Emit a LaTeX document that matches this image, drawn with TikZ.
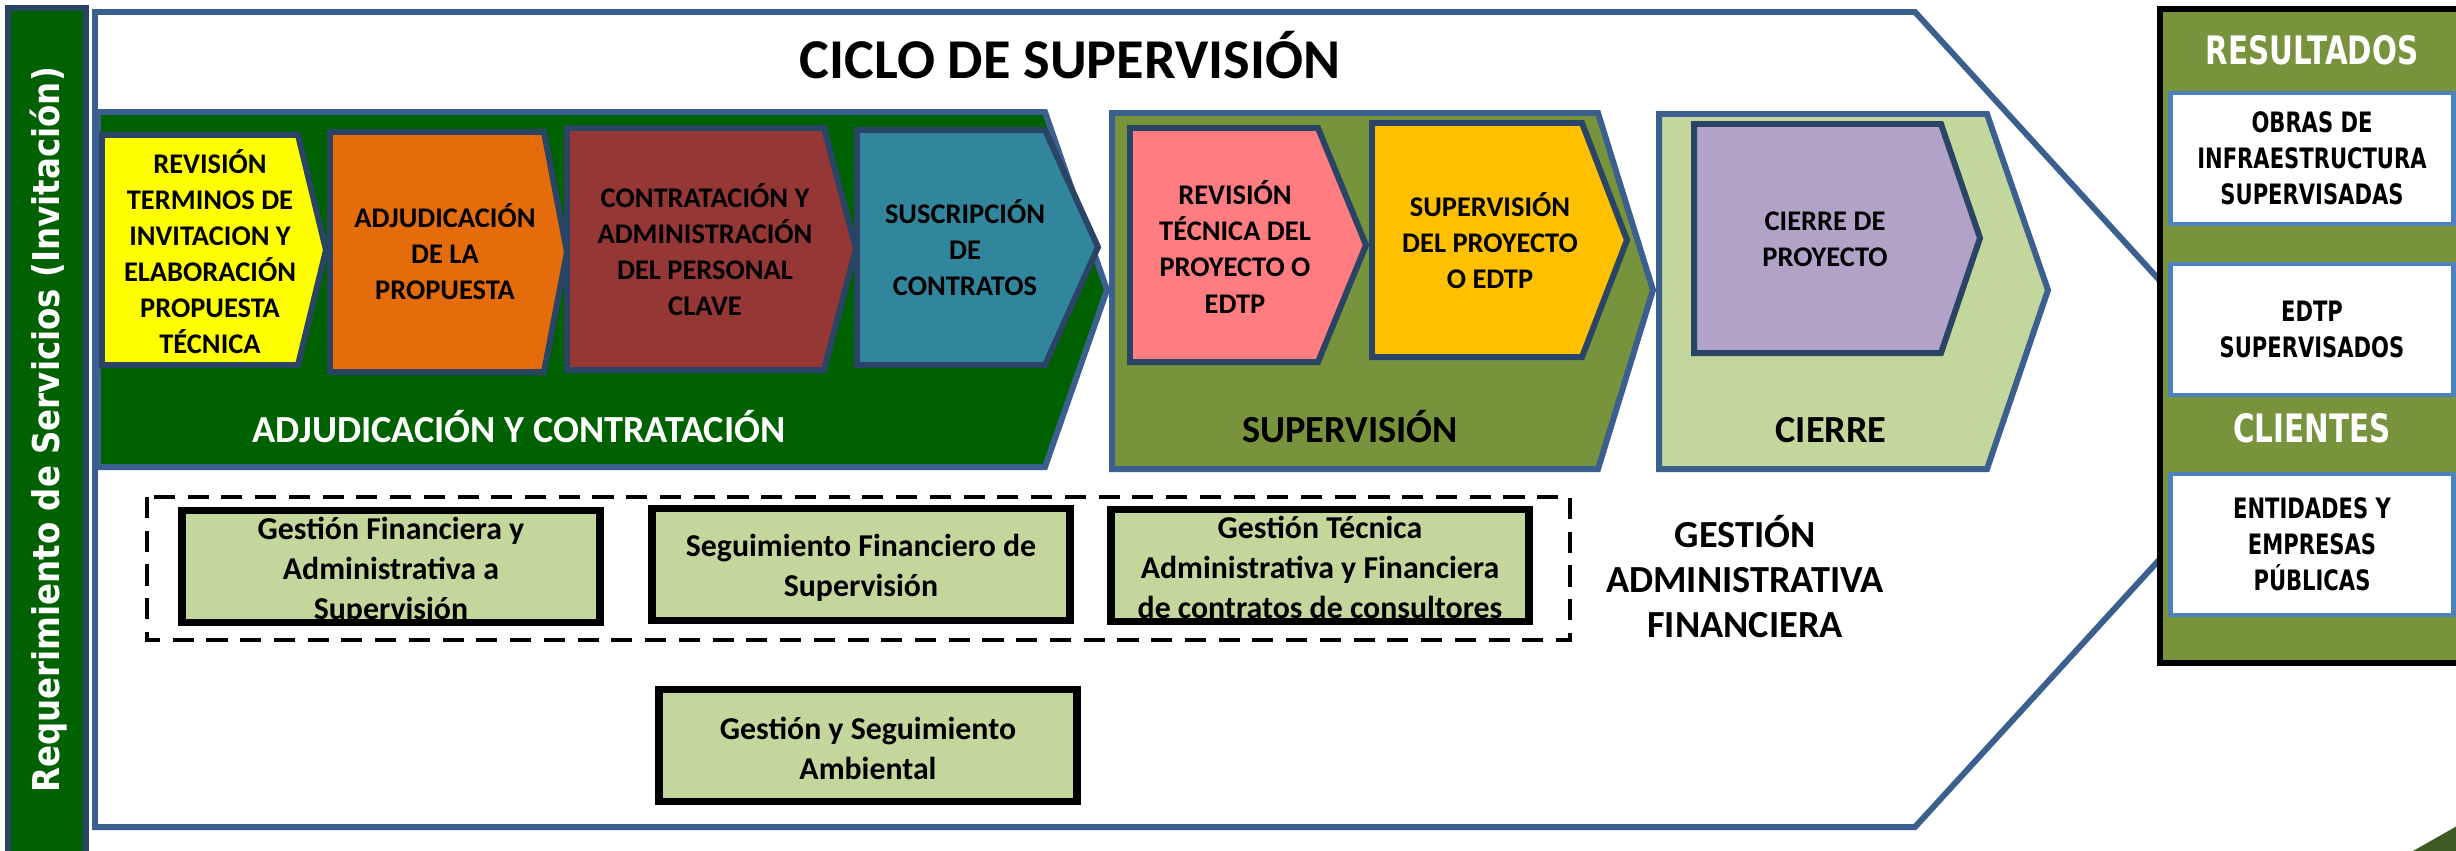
\documentclass[tikz,border=0pt]{standalone}
\usepackage{fontspec}
\setmainfont{Carlito}
\newfontfamily\verdfont[FakeStretch=0.75]{DejaVu Sans}
\newfontfamily\reqfont[FakeStretch=0.88]{DejaVu Sans}
\usetikzlibrary{positioning}

\definecolor{navy}{HTML}{3B6090}
\definecolor{darknavy}{HTML}{2A4466}
\definecolor{dkgreen}{HTML}{006100}
\definecolor{olive}{HTML}{77933C}
\definecolor{ltgreen}{HTML}{C3D69B}
\definecolor{yellowA}{HTML}{FFFF00}
\definecolor{orangeA}{HTML}{E46C0A}
\definecolor{brick}{HTML}{953735}
\definecolor{tealA}{HTML}{31859C}
\definecolor{pinkA}{HTML}{FF7C80}
\definecolor{goldA}{HTML}{FFC000}
\definecolor{lavender}{HTML}{B3A2C7}
\definecolor{resblue}{HTML}{4F81BD}
\definecolor{sliver}{HTML}{3D5B22}

\begin{document}
\begin{tikzpicture}[x=0.1mm,y=-0.1mm,
    phase/.style={draw=navy,line width=1.7pt},
    chev/.style={draw=darknavy,line width=1.7pt},
    chevtext/.style={font=\bfseries\fontsize{8.1pt}{10.25pt}\selectfont,align=center,inner sep=0pt},
    phaselabel/.style={font=\bfseries\fontsize{10.9pt}{13pt}\selectfont,anchor=base,inner sep=0pt},
    gestbox/.style={draw=black,line width=2pt,fill=ltgreen,minimum width=41.8mm,minimum height=11.2mm,inner sep=0pt},
    gesttext/.style={inner sep=0pt,align=center,font=\bfseries\fontsize{9.05pt}{11.4pt}\selectfont},
    resbox/.style={draw=resblue,line width=1.4pt,fill=white,minimum width=28.3mm,
      inner sep=0pt,align=center,font=\verdfont\bfseries\fontsize{8pt}{10.2pt}\selectfont},
    restitle/.style={text=white,inner sep=0pt,font=\verdfont\bfseries\fontsize{11.15pt}{13pt}\selectfont}]
  \useasboundingbox (0,0) rectangle (2456,850);

  % left bar
  \draw[fill=dkgreen,draw=darknavy,line width=1.5pt] (8,8) rectangle (86,858);
  \node[rotate=90,anchor=base,inner sep=0pt,text=white,font=\reqfont\bfseries\fontsize{10.5pt}{12pt}\selectfont]
    (reqtext) at (60,430) {Requerimiento de Servicios (Invitación)};

  % big arrow
  \draw[phase,fill=white] (95,12) -- (1915,12) -- (2287,420) -- (1915,827) -- (95,827) -- cycle;
  \node[phaselabel,font=\bfseries\fontsize{16pt}{19pt}\selectfont] (title) at (1070,78) {CICLO DE SUPERVISIÓN};

  % phases
  \draw[phase,fill=dkgreen] (98,112) -- (1045,112) -- (1107,290) -- (1045,467) -- (98,467) -- cycle;
  \draw[phase,fill=olive] (1112,113) -- (1598,113) -- (1653,290) -- (1598,469) -- (1112,469) -- cycle;
  \draw[phase,fill=ltgreen] (1659,114) -- (1987,114) -- (2048,290) -- (1987,469) -- (1659,469) -- cycle;
  \node[phaselabel,text=white] (adjlbl) at (519,442) {ADJUDICACIÓN Y CONTRATACIÓN};
  \node[phaselabel] (suplbl) at (1350,442) {SUPERVISIÓN};
  \node[phaselabel] (cierrelbl) at (1831,442) {CIERRE};

  % steps
  \draw[chev,fill=yellowA] (102,135) -- (298,135) -- (326,250) -- (298,365) -- (102,365) -- cycle;
  \draw[chev,fill=orangeA] (330,132) -- (544,132) -- (567,252) -- (544,372) -- (330,372) -- cycle;
  \draw[chev,fill=brick] (567,128) -- (824,128) -- (856,249) -- (824,370) -- (567,370) -- cycle;
  \draw[chev,fill=tealA] (857,130) -- (1045,130) -- (1098,247) -- (1045,365) -- (857,365) -- cycle;
  \draw[chev,fill=pinkA] (1130,128) -- (1318,128) -- (1366,245) -- (1318,362) -- (1130,362) -- cycle;
  \draw[chev,fill=goldA] (1372,123) -- (1582,123) -- (1627,240) -- (1582,357) -- (1372,357) -- cycle;
  \draw[chev,fill=lavender] (1694,124) -- (1941,124) -- (1980,238) -- (1941,353) -- (1694,353) -- cycle;

  \node[chevtext] (revnode) at (210,252) {REVISIÓN\\TERMINOS DE\\INVITACION Y\\ELABORACIÓN\\PROPUESTA\\TÉCNICA};
  \node[chevtext] (adjnode) at (445,252) {ADJUDICACIÓN\\DE LA\\PROPUESTA};
  \node[chevtext] (contnode) at (705,250) {CONTRATACIÓN Y\\ADMINISTRACIÓN\\DEL PERSONAL\\CLAVE};
  \node[chevtext] (suscnode) at (965,248) {SUSCRIPCIÓN\\DE\\CONTRATOS};
  \node[chevtext] (revtecnode) at (1235,247) {REVISIÓN\\TÉCNICA DEL\\PROYECTO O\\EDTP};
  \node[chevtext] (supnode) at (1490,241) {SUPERVISIÓN\\DEL PROYECTO\\O EDTP};
  \node[chevtext] (cierrenode) at (1825,239) {CIERRE DE\\PROYECTO};

  % gestion
  \draw[dashed,line width=1.3pt,dash pattern=on 6pt off 3.6pt] (147,497) rectangle (1570,640);
  \node[gestbox] (gfa) at (391,566) {};
  \node[gestbox] (sfs) at (861,564) {};
  \node[gestbox] (gta) at (1320,565) {};
  \node[gestbox] (gsa) at (868,745) {};
  \node[gesttext] (gfatxt) at (391,571) {Gestión Financiera y\\Administrativa a\\Supervisión};
  \node[gesttext] (sfstxt) at (861,568) {Seguimiento Financiero de\\Supervisión};
  \node[gesttext] (gtatxt) at (1320,567) {Gestión Técnica\\Administrativa y Financiera\\de contratos de consultores};
  \node[gesttext] (gsatxt) at (868,748) {Gestión y Seguimiento\\Ambiental};
  \node[align=center,inner sep=0pt,font=\bfseries\fontsize{10.9pt}{12.8pt}\selectfont]
    (gaf) at (1745,577) {GESTIÓN\\ADMINISTRATIVA\\FINANCIERA};

  % results
  \draw[fill=olive,draw=black,line width=1.5pt] (2160,9) rectangle (2466,663);
  \node[restitle] (restit) at (2312,50) {RESULTADOS};
  \node[resbox,minimum height=13.1mm] (obras) at (2312,158.5) {OBRAS DE\\INFRAESTRUCTURA\\SUPERVISADAS};
  \node[resbox,minimum height=13.1mm] (edtp) at (2312,329.5) {EDTP\\SUPERVISADOS};
  \node[restitle] (clitit) at (2312,428) {CLIENTES};
  \node[resbox,minimum height=14.1mm] (entidades) at (2312,544.5) {ENTIDADES Y\\EMPRESAS\\PÚBLICAS};

  \fill[sliver] (2413,851) -- (2457,826) -- (2457,851) -- cycle;
\end{tikzpicture}
\end{document}
